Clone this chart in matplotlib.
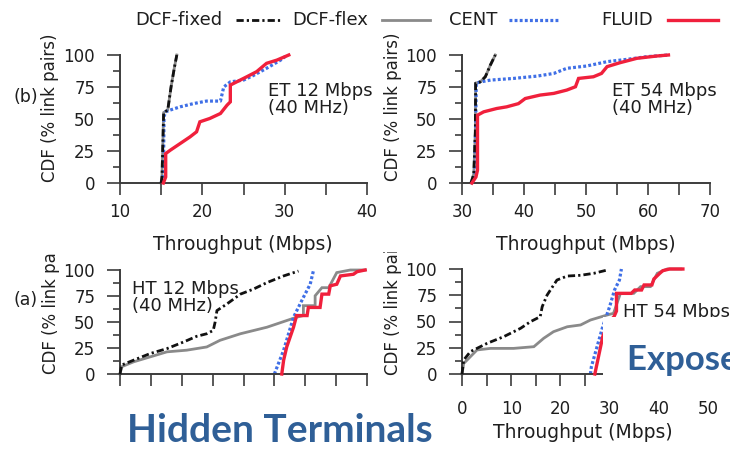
import matplotlib
matplotlib.use("Agg")
import matplotlib.pyplot as plt
from matplotlib.lines import Line2D
from matplotlib.patches import Rectangle
from matplotlib.ticker import MultipleLocator
from matplotlib.transforms import Bbox, TransformedBbox

# ---------------------------------------------------------------- data
SERIES = ["DCF-fixed", "DCF-flex", "CENT", "FLUID"]

# (b) Exposed terminals, 12 Mbps, 40 MHz
ET12_DCF_FIXED_X = [15.0, 15.1, 15.2, 15.3, 15.8, 16.2, 16.6, 16.9]
ET12_DCF_FIXED_Y = [0, 5, 30, 55, 57, 75, 90, 100]
ET12_DCF_FLEX_X = [15.0, 15.1, 15.2, 15.3, 15.8, 16.2, 16.6, 16.9]
ET12_DCF_FLEX_Y = [0, 5, 30, 55, 57, 75, 90, 100]
ET12_CENT_X = [15.0, 15.27, 15.35, 15.55, 16.1, 17.3, 18.9, 20.5, 22.2, 22.6,
               23.4, 25.0, 26.2, 27.8, 29.5, 30.3]
ET12_CENT_Y = [0, 7, 52, 55.6, 57, 59.5, 62, 64, 64, 75, 79, 80.4, 84, 89.6, 96, 100]
ET12_FLUID_X = [15.27, 15.55, 15.55, 16.1, 17.3, 18.5, 19.3, 19.7, 20.9, 22.2,
                23.0, 23.4, 23.4, 23.8, 25.4, 26.6, 27.8, 29.05, 30.5]
ET12_FLUID_Y = [0, 4.7, 23, 25.6, 30.8, 36, 40, 47.8, 50.4, 54.3, 60.8, 63.4,
                76.5, 77.8, 83, 87, 93.5, 96, 100]

# (b) Exposed terminals, 54 Mbps, 40 MHz
ET54_DCF_FIXED_X = [31.45, 31.9, 32.15, 32.2, 32.95, 33.76, 34.0, 34.56, 35.37]
ET54_DCF_FIXED_Y = [0, 7, 40, 78, 79, 83, 85.6, 92, 100]
ET54_DCF_FLEX_X = [31.45, 31.9, 32.15, 32.2, 32.95, 33.76, 34.0, 34.56, 35.37]
ET54_DCF_FLEX_Y = [0, 7, 40, 78, 79, 83, 85.6, 92, 100]
ET54_CENT_X = [31.45, 32.0, 32.2, 32.3, 33.0, 34.6, 38.3, 42.1, 44.8, 46.9,
               50.1, 53.4, 56.6, 59.8, 63.3]
ET54_CENT_Y = [0, 4.7, 40, 78, 79, 80.4, 81.7, 83.5, 85.6, 89.6, 91.4, 94.8,
               96.6, 98.7, 100]
ET54_FLUID_X = [31.6, 32.25, 32.5, 32.5, 33.5, 35.6, 37.2, 39.1, 40.2, 42.6,
                44.8, 46.9, 48.3, 48.8, 51.2, 52.5, 53.4, 55.5, 58.2, 61.4, 63.3]
ET54_FLUID_Y = [0, 4.7, 10, 53, 55.6, 58.2, 59.5, 62, 66, 68.7, 70, 72.6, 75.2,
                81.7, 83, 85.6, 90.9, 94, 97.4, 99.2, 100]

# (a) Hidden terminals, 12 Mbps, 40 MHz
HT12_DCF_FIXED_X = [0, 0.27, 2.2, 4.9, 7.6, 10.3, 12.4, 14.05, 15.1, 15.4, 15.7,
                    17.3, 19.5, 21.6, 23.8, 26.5, 28.9]
HT12_DCF_FIXED_Y = [0, 8.6, 13.3, 19.7, 24.4, 30.8, 36.2, 38.7, 41.9, 49.8, 61,
                    67.3, 76.8, 81.6, 87.9, 94.3, 99]
HT12_DCF_FLEX_X = [0, 0.27, 2.2, 4.9, 7.6, 10.8, 14.05, 16.2, 19.5, 23.8, 27.0,
                   28.6, 29.7, 29.7, 31.6, 31.6, 32.7, 33.8, 35.1, 37.3, 39.7]
HT12_DCF_FLEX_Y = [0, 7, 11.7, 16.5, 21.3, 22.9, 26, 32.4, 38.7, 45, 51.4, 54.6,
                   56.2, 65.7, 65.7, 75.2, 83, 83, 97.5, 100, 100]
HT12_CENT_X = [25.0, 26.5, 28.1, 29.7, 30.8, 31.35]
HT12_CENT_Y = [0, 22.9, 54.6, 73.7, 86.3, 100]
HT12_FLUID_X = [26.2, 26.5, 27.0, 28.1, 28.6, 30.3, 30.5, 32.4, 32.7, 33.8,
                34.05, 35.1, 35.7, 37.8, 38.4, 39.7]
HT12_FLUID_Y = [0, 13.3, 26, 45, 56.2, 56.2, 64, 64, 76.8, 76.8, 84.8, 86.3,
                94.3, 95.9, 98.4, 100]

# (a) Hidden terminals, 54 Mbps
HT54_DCF_FIXED_X = [0, 0.34, 1.7, 5.1, 8.5, 11.9, 13.9, 15.9, 16.3, 17.3, 19.3,
                    21.4, 24.1, 26.8, 29.5]
HT54_DCF_FIXED_Y = [0, 13.3, 21.3, 29.2, 35.6, 43.5, 49.8, 54.6, 64.1, 75.2,
                    89.5, 93.3, 94, 95.9, 99]
HT54_DCF_FLEX_X = [0, 0.34, 3.05, 5.8, 10.5, 14.6, 16.6, 18.6, 21.4, 24.1, 26.1,
                   29.5, 30.8, 32.2, 34.9, 36.3, 38.3, 39.7, 41.7, 44.5]
HT54_DCF_FLEX_Y = [0, 10, 22.9, 24.4, 24.4, 26, 34, 40.3, 45, 46.7, 51.4, 56.2,
                   57.8, 76.8, 76.8, 83.2, 83.2, 95.9, 100, 100]
HT54_CENT_X = [26.1, 26.3, 28.6, 30.0, 31.0, 32.0, 32.4]
HT54_CENT_Y = [0, 7, 45, 64, 80, 89.5, 100]
HT54_FLUID_X = [27.0, 28.6, 29.6, 30.9, 31.4, 31.4, 34.4, 35.1, 36.5, 37.0,
                38.6, 39.0, 40.2, 40.8, 42.2, 44.9]
HT54_FLUID_Y = [0, 35.5, 48, 54.6, 60, 76.8, 76.8, 80, 80, 84.8, 84.8, 90.5,
                95.9, 98.4, 100, 100]

X_LABEL = "Throughput (Mbps)"
Y_LABEL = "CDF (% link pairs)"

# ---------------------------------------------------------------- styles
W, H = 730, 450
STYLE = {
    "DCF-fixed": dict(color="#111111", lw=2.0, ls=(0, (2.6, 1.1, 0.8, 1.1)), zorder=3),
    "DCF-flex": dict(color="#8a8a8a", lw=2.0, ls="-", zorder=1),
    "CENT": dict(color="#3f6fe6", lw=2.3, ls=(0, (0.9, 0.7)), zorder=2),
    "FLUID": dict(color="#f0203c", lw=2.4, ls="-", zorder=4),
}
AXIS_COLOR = "#3c3c3c"
TEXT_COLOR = "#1e1e1e"
TITLE_BLUE = "#2f5f97"
plt.rcParams["font.family"] = ["DejaVu Sans"]


def fx(x):
    return x / W


def fy(y):
    return 1 - y / H


fig = plt.figure(figsize=(W / 100, H / 100), dpi=100)
fig.patch.set_facecolor("white")


def make_axes(x0, x1, ytop, ybot, xlim, xpad, labels=True):
    ax = fig.add_axes([fx(x0), fy(ybot), (x1 - x0) / W, (ybot - ytop) / H])
    ax.set_facecolor("none")
    for s in ("top", "right"):
        ax.spines[s].set_visible(False)
    for s in ("left", "bottom"):
        ax.spines[s].set_color(AXIS_COLOR)
        ax.spines[s].set_linewidth(1.4)
    ax.set_xlim(*xlim)
    ax.set_ylim(0, 100)
    ax.xaxis.set_major_locator(MultipleLocator(10))
    ax.xaxis.set_minor_locator(MultipleLocator(5))
    ax.yaxis.set_major_locator(MultipleLocator(25))
    ax.yaxis.set_minor_locator(MultipleLocator(12.5))
    ax.tick_params(axis="y", which="major", length=9.4, width=1.2, pad=8.5,
                   color=AXIS_COLOR, labelsize=12, labelcolor=TEXT_COLOR)
    ax.tick_params(axis="y", which="minor", length=5, width=1.2, color=AXIS_COLOR)
    ax.tick_params(axis="x", which="both", length=8.6, width=1.2, pad=xpad,
                   color=AXIS_COLOR, labelsize=12, labelcolor=TEXT_COLOR,
                   labelbottom=labels)
    return ax


def draw(ax, data):
    for name, (xs, ys) in zip(SERIES, data):
        st = STYLE[name]
        ax.plot(xs, ys, color=st["color"], lw=st["lw"], ls=st["ls"],
                zorder=st["zorder"], clip_on=False, solid_joinstyle="miter")


def ylabel(x, ybottom, clip_top=None):
    t = fig.text(fx(x), fy(ybottom), Y_LABEL, rotation=90, ha="center",
                 va="bottom", fontsize=12, color=TEXT_COLOR)
    if clip_top is not None:
        t.set_clip_box(TransformedBbox(Bbox([[0, 0], [1, fy(clip_top)]]),
                                       fig.transFigure))
        t.set_clip_on(True)


# ---------------------------------------------------------------- panels
ax1 = make_axes(120, 367, 55, 183, (10, 40), 6)
draw(ax1, [(ET12_DCF_FIXED_X, ET12_DCF_FIXED_Y), (ET12_DCF_FLEX_X, ET12_DCF_FLEX_Y),
           (ET12_CENT_X, ET12_CENT_Y), (ET12_FLUID_X, ET12_FLUID_Y)])
fig.text(fx(268), fy(82), "ET 12 Mbps\n(40 MHz)", ha="left", va="top",
         fontsize=13, color=TEXT_COLOR, linespacing=0.95)
fig.text(fx(243), fy(245), X_LABEL, ha="center", va="center", fontsize=13.5,
         color=TEXT_COLOR)
ylabel(50, 182)
fig.text(fx(26), fy(97), "(b)", ha="center", va="center", fontsize=12.5,
         color=TEXT_COLOR)

ax2 = make_axes(462, 710, 55, 183, (30, 70), 6)
draw(ax2, [(ET54_DCF_FIXED_X, ET54_DCF_FIXED_Y), (ET54_DCF_FLEX_X, ET54_DCF_FLEX_Y),
           (ET54_CENT_X, ET54_CENT_Y), (ET54_FLUID_X, ET54_FLUID_Y)])
fig.text(fx(612), fy(82), "ET 54 Mbps\n(40 MHz)", ha="left", va="top",
         fontsize=13, color=TEXT_COLOR, linespacing=0.95)
fig.text(fx(586), fy(245), X_LABEL, ha="center", va="center", fontsize=13.5,
         color=TEXT_COLOR)
ylabel(393, 181)

ax3 = make_axes(120, 367, 270, 374, (0, 40), 10, labels=False)
draw(ax3, [(HT12_DCF_FIXED_X, HT12_DCF_FIXED_Y), (HT12_DCF_FLEX_X, HT12_DCF_FLEX_Y),
           (HT12_CENT_X, HT12_CENT_Y), (HT12_FLUID_X, HT12_FLUID_Y)])
fig.text(fx(132), fy(280), "HT 12 Mbps\n(40 MHz)", ha="left", va="top",
         fontsize=13, color=TEXT_COLOR, linespacing=0.95)
ylabel(51, 374, clip_top=252)
fig.text(fx(26), fy(300), "(a)", ha="center", va="center", fontsize=12.5,
         color=TEXT_COLOR)

ax4 = make_axes(462, 708, 269, 374, (0, 50), 10)
draw(ax4, [(HT54_DCF_FIXED_X, HT54_DCF_FIXED_Y), (HT54_DCF_FLEX_X, HT54_DCF_FLEX_Y),
           (HT54_CENT_X, HT54_CENT_Y), (HT54_FLUID_X, HT54_FLUID_Y)])
fig.text(fx(623), fy(303), "HT 54 Mbps\n(40 MHz)", ha="left", va="top",
         fontsize=13, color=TEXT_COLOR, linespacing=0.95)
fig.text(fx(583), fy(432), X_LABEL, ha="center", va="center", fontsize=13.5,
         color=TEXT_COLOR)
ylabel(393, 375, clip_top=252)

# ---------------------------------------------------------------- legend
legend_text_right = [222, 368, 497, 653]
legend_line = [(236, 282), (382, 430), (509, 560), (668, 718)]
for name, tr, (l0, l1) in zip(SERIES, legend_text_right, legend_line):
    fig.text(fx(tr), fy(20), name, ha="right", va="center", fontsize=13,
             color=TEXT_COLOR)
    st = STYLE[name]
    fig.add_artist(Line2D([fx(l0), fx(l1)], [fy(20), fy(20)], color=st["color"],
                          lw=st["lw"], ls=st["ls"], transform=fig.transFigure))

# ---------------------------------------------------------------- slide captions
box = Rectangle((fx(603), fy(395)), fx(730) - fx(603), fy(317) - fy(395),
                transform=fig.transFigure, facecolor="white", edgecolor="none",
                zorder=5)
fig.add_artist(box)
fig.text(fx(627), fy(370), "Exposed Terminals", ha="left", va="baseline",
         fontsize=25, fontweight="bold", family="Lato", color=TITLE_BLUE,
         zorder=6)
fig.text(fx(127), fy(442), "Hidden Terminals", ha="left", va="baseline",
         fontsize=28, fontweight="bold", family="Lato", color=TITLE_BLUE,
         zorder=6)

fig.savefig("out.png", dpi=100, facecolor="white")
